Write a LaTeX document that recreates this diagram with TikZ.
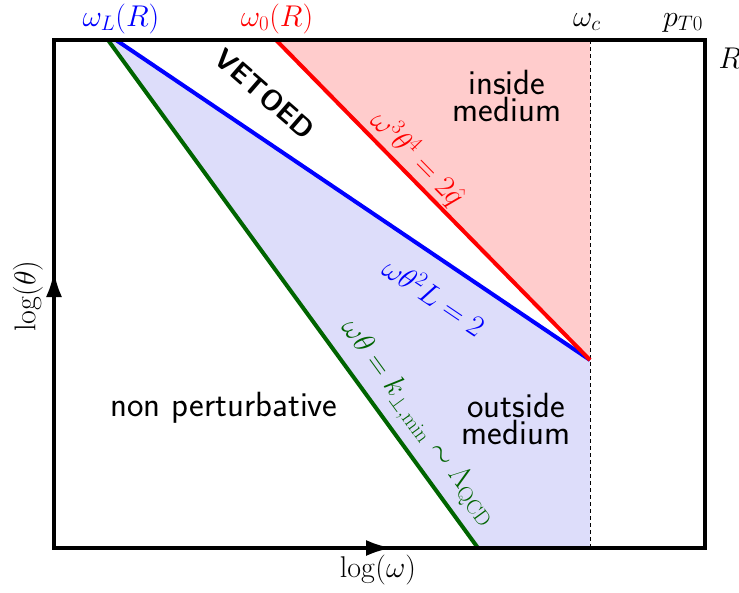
\RequirePackage{fix-cm}
\documentclass[tikz,border=0pt]{standalone}
\usetikzlibrary{arrows.meta}
\definecolor{pinkfill}{RGB}{255,204,204}
\definecolor{bluefill}{RGB}{221,221,250}
\definecolor{dgreen}{RGB}{0,100,0}
\begin{document}
\begin{tikzpicture}[x=1pt,y=-1pt,
  mathlbl/.style={font=\fontsize{30}{32}\selectfont, inner sep=0pt},
  sanslbl/.style={font=\fontsize{35}{27}\selectfont\sffamily, align=center, inner sep=0pt},
  boxline/.style={line width=3.8pt},
  curveline/.style={line width=4pt},
  axarrow/.style={line width=3.8pt, -{Latex[length=26pt,width=16pt]}}]
\useasboundingbox (0,0) rectangle (739,592);
% corners and key points
\coordinate (BL) at (54,548);
\coordinate (TL) at (54,40);
\coordinate (TR) at (705,40);
\coordinate (BR) at (705,548);
\coordinate (gT) at (108,40);
\coordinate (gB) at (478,548);
\coordinate (bT) at (116,40);
\coordinate (rT) at (276,40);
\coordinate (M) at (590,360);
\coordinate (cT) at (590,40);
\coordinate (cB) at (590,548);
\coordinate (xArr) at (392,548);
\coordinate (yArr) at (54,271);
% fills
\fill[pinkfill] (rT) -- (cT) -- (M) -- cycle;
\fill[bluefill] (gT) -- (bT) -- (M) -- (cB) -- (gB) -- cycle;
\draw[dashed, line width=0.9pt, dash pattern=on 4pt off 3pt] (cT) -- (cB);
% curves with labels
\draw[curveline, dgreen] (gT) -- (gB)
  node[mathlbl, pos=0.783, sloped, above=8pt] (glab) {$\omega\theta = k_{\perp,\mathrm{min}} \sim \Lambda_{\mathrm{QCD}}$};
\draw[curveline, blue] (bT) -- (M)
  node[mathlbl, pos=0.712, sloped, below=19pt] (blab) {$\omega\theta^2 L = 2$};
\draw[curveline, red] (rT) -- (M)
  node[mathlbl, pos=0.41, sloped, above=1pt] (rlab) {$\omega^3\theta^4 = 2\hat{q}$};
% box and axes
\draw[boxline] (BL) rectangle (TR);
\draw[axarrow] (BL) -- (xArr);
\draw[axarrow] (BL) -- (yArr);
% axis labels
\node[mathlbl, anchor=base] (xl) at (378,577) {$\log(\omega)$};
\node[mathlbl, rotate=90] (yl) at (28,296) {$\log(\theta)$};
% top labels
\node[mathlbl, anchor=base, text=blue] (wL) at (121,26) {$\omega_L(R)$};
\node[mathlbl, anchor=base, text=red] (w0) at (277,26) {$\omega_0(R)$};
\node[mathlbl, anchor=base] (wc) at (587,26) {$\omega_c$};
\node[mathlbl, anchor=base] (pT) at (683,26) {$p_{T0}$};
\node[mathlbl, anchor=base] (R) at (730,68) {$R$};
% region labels
\node[sanslbl] (ins) at (507,96) {inside\\medium};
\node[sanslbl] (outs) at (516,419) {outside\\medium};
\node[sanslbl, anchor=base] (np) at (224,416) {non perturbative};
\node[font=\fontsize{28}{30}\selectfont\sffamily\bfseries, inner sep=0pt, rotate=-41] (veto) at (265,94) {VETOED};
\end{tikzpicture}
\end{document}
